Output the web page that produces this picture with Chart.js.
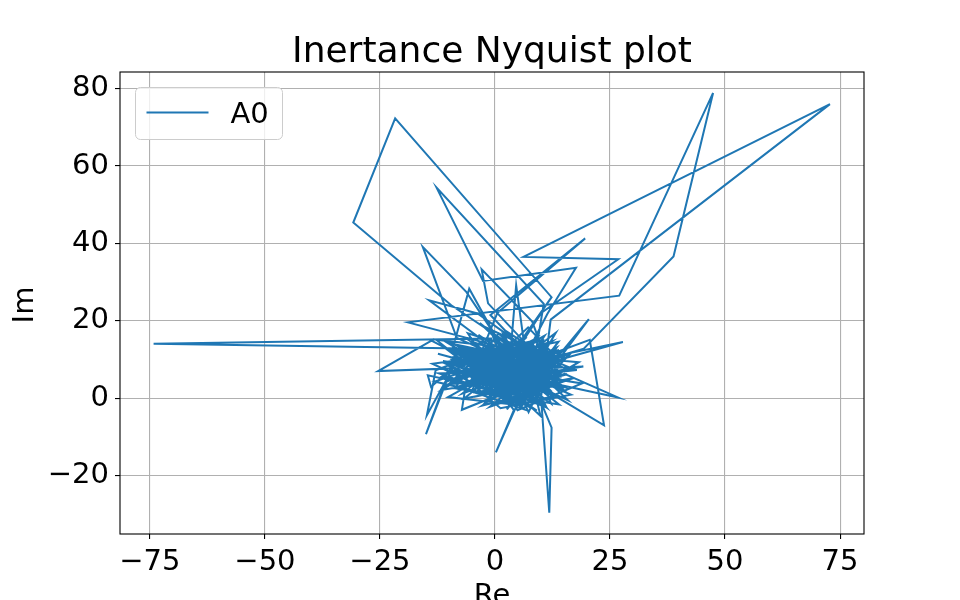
<!DOCTYPE html>
<html>
<head>
<meta charset="utf-8">
<title>Inertance Nyquist plot</title>
<script src="https://cdn.jsdelivr.net/npm/chart.js@4.4.1/dist/chart.umd.min.js"></script>
<style>
  html, body { margin: 0; padding: 0; background: #fff; }
  #wrap { width: 960px; height: 600px; }
</style>
</head>
<body>
<div id="wrap"><canvas id="nyquist" width="960" height="600"></canvas></div>
<script>
// --- data ---
const seriesLabel = 'A0';
const xTicks = [-75, -50, -25, 0, 25, 50, 75];
const yTicks = [-20, 0, 20, 40, 60, 80];
const xLimits = [-81.5, 80.2];
const yLimits = [-35.1, 84.3];

// [Re, Im] pairs, in the order the trace visits them
const nyquistA0 = [
  [5.2, 8.1], [9.8, 3.4], [2.1, 12.6], [11.5, 6.9], [-3.4, 9.8], [7.6, 1.2], [12.9, 11.3], [0.8, 4.5], [8.4, 14.2], [-6.1, 6.3],
  [4.3, -1.8], [13.6, 7.7], [1.9, 16.4], [9.1, 0.6], [-8.7, 11.9], [6.8, 9.3], [15.2, 2.8], [3.5, 5.4], [10.7, 12.8], [-1.2, 2.2],
  [-0.8, 15.4], [-74.2, 14.1], [0.3, 12.7], [8.9, 6.1], [-4.6, 4.8], [11.2, -2.4], [5.7, 10.9], [-9.8, 8.2], [3.1, 0.9], [14.1, 9.6],
  [7.2, 18.3], [-2.7, 7.1], [12.4, 3.9], [1.4, 13.3], [-11.5, 5.6], [6.3, -0.7], [16.3, 11.4], [4.9, 6.6], [-5.3, 14.7], [9.6, 8.8],
  [-9.5, 24.0], [-30.8, 45.4], [-21.7, 72.3], [12.3, 26.1], [3.8, 11.7], [10.2, 2.1], [-7.4, 9.4], [13.8, 14.6], [2.6, -2.9], [8.1, 10.4],
  [-3.9, 12.5], [11.9, 5.3], [0.4, 8.6], [6.9, 15.8], [-9.2, 3.7], [15.7, 6.2], [4.4, 2.6], [9.3, 12.1], [-1.8, 18.2], [7.8, 4.3],
  [10.6, 24.4], [-12.7, 54.4], [-2.6, 30.3], [17.6, 33.7], [11.4, 21.8], [5.1, 7.4], [-6.8, 13.1], [12.7, 0.8], [2.3, 9.9], [14.6, 4.7],
  [-4.1, 1.6], [8.6, 13.7], [0.9, 5.8], [10.9, 9.1], [-10.3, 14.3], [6.1, 2.4], [13.2, 16.9], [3.3, 7.9], [-7.9, 6.8], [9.9, -0.9],
  [12.1, 20.3], [72.8, 76.0], [6.2, 36.5], [26.8, 35.9], [10.1, 22.1], [4.7, 12.2], [-2.2, 4.1], [11.7, 7.6], [7.3, -3.6], [1.6, 10.7],
  [13.9, 12.4], [-5.6, 8.9], [8.2, 5.9], [3.9, 15.1], [15.4, 1.6], [-0.6, 11.6], [10.4, 14.9], [5.8, 3.1], [-8.3, 10.6], [12.6, 9.7],
  [-18.9, 19.6], [27.0, 26.5], [47.4, 78.9], [38.8, 36.6], [19.3, 12.8], [6.6, 8.3], [-3.1, 14.2], [9.4, 1.7], [2.8, 6.1], [14.9, 10.1],
  [-6.4, 2.9], [7.9, 11.8], [12.2, -1.4], [0.2, 9.2], [10.8, 16.2], [4.1, 4.2], [-9.6, 12.7], [13.1, 6.8], [6.4, 13.6], [-1.5, 6.7],
  [4.1, -3.1], [0.2, -14.0], [4.6, -2.2], [11.3, 8.4], [-4.4, 10.3], [8.7, 2.9], [15.9, 8.1], [2.4, 14.8], [9.7, 5.1], [-7.2, -3.0],
  [-5.8, 7.6], [10.1, -1.3], [11.8, -29.6], [12.3, -7.6], [7.1, 7.2], [-2.9, 3.4], [13.4, 13.1], [5.4, 0.4], [-11.1, 9.1], [8.3, 9.7],
  [20.6, 15.1], [23.7, -7.0], [13.6, 0.2], [4.8, 9.6], [-3.6, 16.4], [11.0, 4.4], [15.1, 6.3], [26.7, 0.2], [14.2, 3.4], [6.7, 12.5],
  [1.1, 2.7], [9.2, 15.6], [-8.1, 5.1], [12.8, 10.8], [27.8, 14.5], [15.3, 10.4], [3.6, 3.9], [10.3, 11.2], [-4.9, 12.0], [7.5, 0.1],
  [-14.6, 5.9], [-13.9, 2.9], [-9.4, 7.7], [-25.4, 7.0], [-13.8, 14.9], [-6.3, 10.2], [-12.9, 7.2], [-14.8, -4.4], [-8.8, 8.6], [-1.9, 12.9],
  [-11.5, 2.0], [-15.0, -9.3], [-10.6, 4.2], [3.7, 11.3], [-7.1, 1.2], [8.8, 7.9], [-3.3, 19.4], [11.6, 2.5], [0.6, 7.3], [-12.4, 11.5],
  [6.0, 5.6], [-6.2, 27.4], [-15.7, 39.1], [-8.3, 15.6], [4.2, 8.9], [-14.3, 25.3], [-3.8, 21.9], [9.5, 10.6], [-1.5, 24.5], [-2.9, 33.3],
  [8.1, 19.8], [12.9, 4.1], [-1.0, 21.5], [19.6, 41.3], [0.5, 22.0], [-5.1, 5.7], [10.6, 6.4], [20.4, 20.4], [14.3, 10.7], [2.0, 8.2],
  [7.7, 2.0], [4.6, 29.2], [3.2, 9.4], [-5.6, 28.3], [-9.1, 13.2], [6.5, 6.9], [12.0, 12.2], [-0.9, 0.7], [9.0, 4.6], [3.0, 16.9],
  [14.4, 8.2], [-7.6, 11.2], [5.9, -1.9], [11.1, 13.9], [1.3, 6.4], [8.5, 0.9], [-4.2, 8.2], [13.7, 5.6], [4.0, 12.9], [10.0, 7.3],
  [-7.5, 8.8], [3.4, 0.1], [-10.8, 12.9], [9.1, -3.2], [-4.3, 4.4], [17.8, 7.3], [-12.2, 6.4], [6.2, -1.1], [-1.7, 13.3], [13.9, -1.6],
  [-8.9, 2.6], [10.4, 10.7], [-5.9, 16.8], [4.9, -3.1], [18.9, 3.8], [-11.3, 9.6], [7.6, 1.2], [-2.8, -1.9], [14.7, 12.1], [-6.6, 5.3],
  [1.2, -2.6], [16.5, 0.9], [-9.7, 14.4], [8.3, 3.5], [-3.5, 0.6], [12.4, 14.7], [-13.1, 4.3], [5.1, -0.8], [-0.3, 15.6], [11.2, -2.4],
  [-7.3, 12.0], [18.2, 9.3], [2.9, -1.5], [-10.2, 0.3], [9.6, 13.4], [-4.8, 10.9], [15.8, -0.5], [0.8, 16.7], [-8.4, 3.1], [6.4, -2.9],
  [-12.8, 15.1], [13.1, 11.6], [-1.1, -2.2], [17.1, 5.2], [-6.7, -0.1], [8.7, 14.9], [-9.4, 10.0], [3.7, -2.0], [12.9, 0.6], [-3.2, 7.1],
  [19.2, 8.2], [-11.6, 2.1], [5.8, 15.3], [9.9, -4.6], [-5.5, 12.6], [15.2, 10.4], [-2.3, -1.4], [7.8, 12.4], [-13.6, 8.9], [4.4, -1.2],
  [10.8, 2.3], [6.0, 1.0], [8.9, 5.6], [3.1, 3.2], [12.0, 4.0], [7.4, -0.4], [9.8, 7.8], [4.6, 5.9], [11.3, 1.4], [6.9, 3.9],
  [-6.1, 7.2], [-3.9, 3.0], [-8.0, 6.0], [-2.2, 9.4], [-5.0, 1.9], [8.2, 0.4], [11.7, 6.5], [5.3, 2.6], [13.6, 3.1], [2.5, 6.8],
  [9.4, -1.0], [7.0, 8.4], [-7.0, 4.0], [10.5, 5.0], [4.0, 1.2], [-4.5, 8.0], [12.8, 7.0], [6.5, 4.6], [-1.0, 4.4], [8.0, 2.2],
  [3.0, 9.8], [10.0, 3.6], [-9.2, 6.8], [5.6, 7.3], [11.9, 9.0], [1.0, 1.5], [7.7, 6.2], [-3.4, 5.6], [9.0, 1.8], [6.0, 5.0]
];

const C = {
  line: '#1f77b4',
  grid: '#b0b0b0',
  axis: '#000000',
  text: '#000000',
  legendEdge: '#cccccc',
};
const FONT = '"DejaVu Sans", sans-serif';
const LABEL_SIZE = 29;

function fmtTick(v) { return v < 0 ? '\u2212' + Math.abs(v) : String(v); }

// frame, title, axis titles and the in-axes legend, matplotlib style
const decor = {
  id: 'decor',
  afterDraw(chart) {
    const { ctx, chartArea: a } = chart;
    ctx.save();
    ctx.strokeStyle = C.axis;
    ctx.lineWidth = 1.1;
    ctx.strokeRect(a.left, a.top, a.right - a.left, a.bottom - a.top);

    ctx.fillStyle = C.text;
    ctx.textAlign = 'center';
    ctx.textBaseline = 'alphabetic';
    ctx.font = '36px ' + FONT;
    ctx.fillText('Inertance Nyquist plot', (a.left + a.right) / 2, 62);

    ctx.font = LABEL_SIZE + 'px ' + FONT;
    ctx.fillText('Re', (a.left + a.right) / 2, 604);
    ctx.save();
    ctx.translate(33, (a.top + a.bottom) / 2 + 2);
    ctx.rotate(-Math.PI / 2);
    ctx.fillText('Im', 0, 0);
    ctx.restore();

    // legend box
    const lx = a.left + 15.5, ly = a.top + 15.5, lw = 147, lh = 52;
    ctx.beginPath();
    ctx.roundRect(lx, ly, lw, lh, 5);
    ctx.fillStyle = 'rgba(255,255,255,0.8)';
    ctx.fill();
    ctx.strokeStyle = C.legendEdge;
    ctx.lineWidth = 1;
    ctx.stroke();
    ctx.beginPath();
    ctx.moveTo(lx + 11, ly + 25);
    ctx.lineTo(lx + 73, ly + 25);
    ctx.strokeStyle = C.line;
    ctx.lineWidth = 2;
    ctx.stroke();
    ctx.fillStyle = C.text;
    ctx.textAlign = 'left';
    ctx.font = LABEL_SIZE + 'px ' + FONT;
    ctx.fillText(chart.data.datasets[0].label, lx + 95, ly + 35);
    ctx.restore();
  }
};

const ctx = document.getElementById('nyquist').getContext('2d');
new Chart(ctx, {
  type: 'scatter',
  data: {
    datasets: [{
      label: seriesLabel,
      data: nyquistA0.map(([re, im]) => ({ x: re, y: im })),
      showLine: true,
      borderColor: C.line,
      borderWidth: 2,
      pointRadius: 0,
      pointHoverRadius: 0,
      tension: 0,
      fill: false,
    }]
  },
  options: {
    responsive: false,
    animation: false,
    devicePixelRatio: 1,
    layout: { padding: { left: 0, right: 96, top: 72, bottom: 0 } },
    plugins: { legend: { display: false }, title: { display: false }, tooltip: { enabled: false } },
    scales: {
      x: {
        type: 'linear', min: xLimits[0], max: xLimits[1],
        afterBuildTicks: (s) => { s.ticks = xTicks.map(v => ({ value: v })); },
        afterFit: (s) => { s.height = 66; },
        ticks: { callback: fmtTick, color: C.text, font: { family: FONT, size: LABEL_SIZE }, padding: 6, maxRotation: 0, autoSkip: false },
        grid: { color: C.grid, lineWidth: 1.1, tickColor: C.axis, tickLength: 5, drawTicks: true },
        border: { display: false },
      },
      y: {
        type: 'linear', min: yLimits[0], max: yLimits[1],
        afterBuildTicks: (s) => { s.ticks = yTicks.map(v => ({ value: v })); },
        afterFit: (s) => { s.width = 120; },
        ticks: { callback: fmtTick, color: C.text, font: { family: FONT, size: LABEL_SIZE }, padding: 6, autoSkip: false },
        grid: { color: C.grid, lineWidth: 1.1, tickColor: C.axis, tickLength: 5, drawTicks: true },
        border: { display: false },
      }
    }
  },
  plugins: [decor]
});
</script>
</body>
</html>
